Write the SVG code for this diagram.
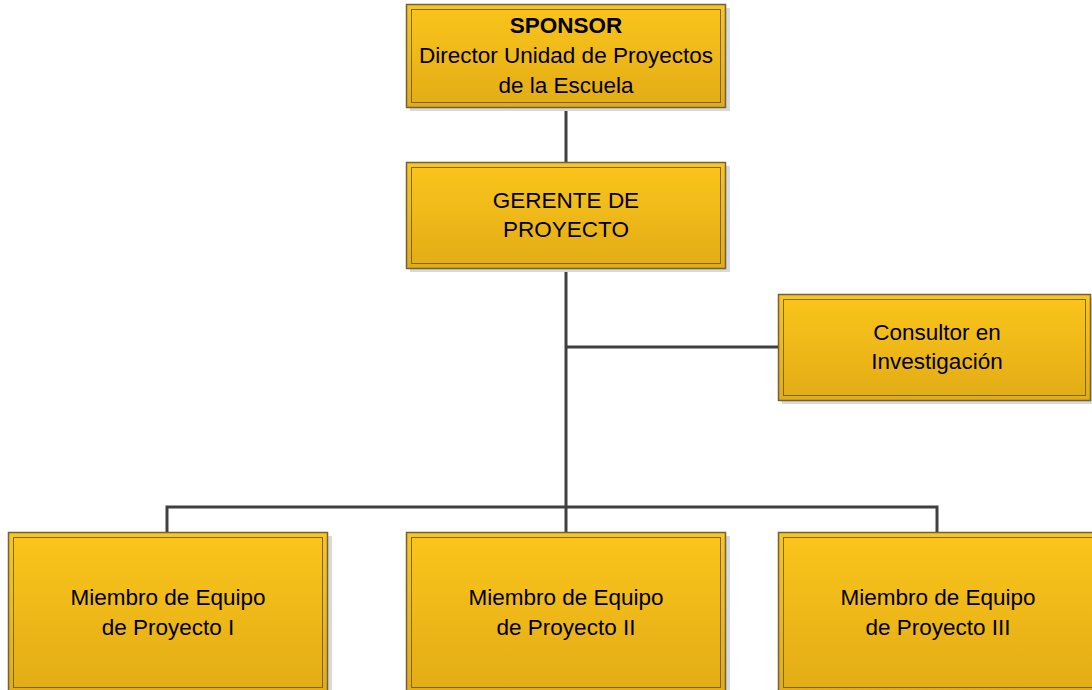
<svg xmlns="http://www.w3.org/2000/svg" width="1092" height="690" viewBox="0 0 1092 690">
<defs>
<linearGradient id="g" x1="0" y1="0" x2="0" y2="1">
<stop offset="0" stop-color="#FBC51B"/>
<stop offset="1" stop-color="#E2AC16"/>
</linearGradient>
<style>
.box{fill:url(#g);stroke:#6E6240;stroke-width:1.5}
.inner{fill:none;stroke:#7A6428;stroke-width:1}
.sh{fill:#D9D9D9}
.t{font-family:"Liberation Sans",Arial,sans-serif;font-size:22.5px;fill:#000;text-anchor:middle}
.b{font-weight:bold}
.c{fill:none;stroke:#404040;stroke-width:3}
</style>
</defs>
<rect width="1092" height="690" fill="#fff"/>
<g id="connectors">
<path class="c" d="M566 107V162"/>
<path class="c" d="M566 268V532"/>
<path class="c" d="M566 347H778"/>
<path class="c" d="M167 532V507H937V532"/>
</g>
<g id="sponsor">
<rect class="sh" x="410" y="8" width="320" height="103"/>
<rect class="box" x="406.5" y="4.5" width="319" height="103"/>
<rect class="inner" x="411.5" y="9.5" width="309" height="93"/>
<text class="t b" x="566" y="33">SPONSOR</text>
<text class="t" x="566" y="63">Director Unidad de Proyectos</text>
<text class="t" x="566" y="93">de la Escuela</text>
</g>
<g id="gerente">
<rect class="sh" x="410" y="166" width="320" height="106"/>
<rect class="box" x="406.5" y="162.5" width="319" height="106"/>
<rect class="inner" x="411.5" y="167.5" width="309" height="96"/>
<text class="t" x="566" y="208">GERENTE DE</text>
<text class="t" x="566" y="237">PROYECTO</text>
</g>
<g id="consultor">
<rect class="sh" x="782" y="298" width="312" height="106"/>
<rect class="box" x="778.5" y="294.5" width="312" height="106"/>
<rect class="inner" x="783.5" y="299.5" width="302" height="96"/>
<text class="t" x="937" y="340">Consultor en</text>
<text class="t" x="937" y="369">Investigación</text>
</g>
<g id="miembro1">
<rect class="sh" x="12" y="536" width="320" height="160"/>
<rect class="box" x="8.5" y="532.5" width="319" height="160"/>
<rect class="inner" x="13.5" y="537.5" width="309" height="150"/>
<text class="t" x="168" y="605">Miembro de Equipo</text>
<text class="t" x="168" y="635">de Proyecto I</text>
</g>
<g id="miembro2">
<rect class="sh" x="410" y="536" width="320" height="160"/>
<rect class="box" x="406.5" y="532.5" width="319" height="160"/>
<rect class="inner" x="411.5" y="537.5" width="309" height="150"/>
<text class="t" x="566" y="605">Miembro de Equipo</text>
<text class="t" x="566" y="635">de Proyecto II</text>
</g>
<g id="miembro3">
<rect class="sh" x="782" y="536" width="320" height="160"/>
<rect class="box" x="778.5" y="532.5" width="319" height="160"/>
<rect class="inner" x="783.5" y="537.5" width="309" height="150"/>
<text class="t" x="938" y="605">Miembro de Equipo</text>
<text class="t" x="938" y="635">de Proyecto III</text>
</g>
</svg>
